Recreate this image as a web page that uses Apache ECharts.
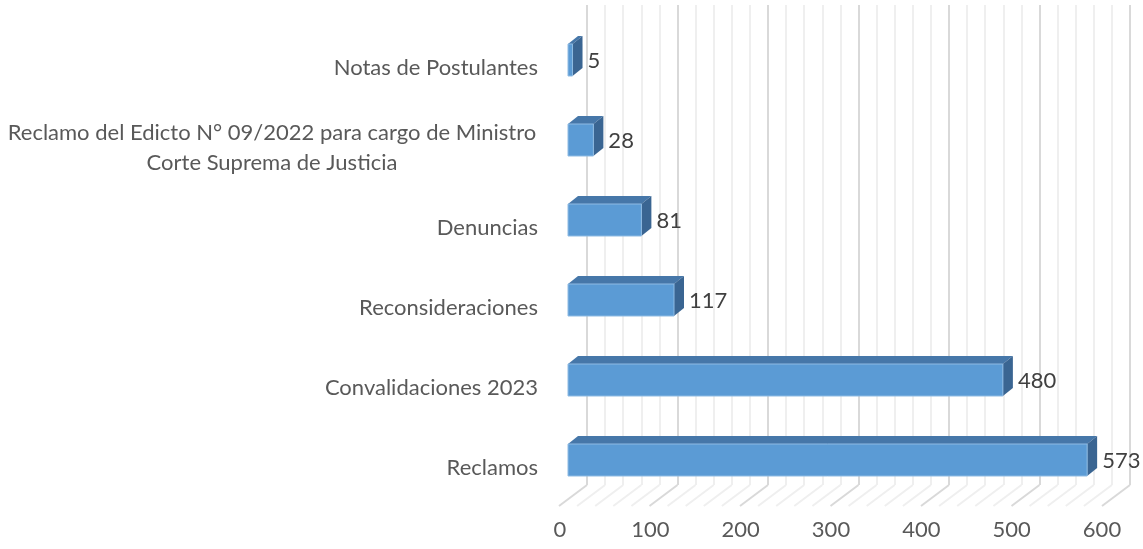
<!DOCTYPE html>
<html>
<head>
<meta charset="utf-8">
<script src="https://cdn.jsdelivr.net/npm/echarts@6/dist/echarts.min.js"></script>
<style>
  html, body { margin: 0; padding: 0; background: #fff; }
  #chart { width: 1143px; height: 549px; }
</style>
</head>
<body>
<div id="chart"></div>
<script>
// categories, top to bottom
var categories = [
    "Notas de Postulantes",
    "Reclamo del Edicto N° 09/2022 para cargo de Ministro\nCorte Suprema de Justicia",
    "Denuncias",
    "Reconsideraciones",
    "Convalidaciones 2023",
    "Reclamos"
];
var values = [5, 28, 81, 117, 480, 573];

// ticks of the back wall / floor (major every 100, minor every 20)
var wallTicks = [];
for (var t = 0; t <= 600; t += 20) wallTicks.push(t);

var DX = 10, DY = -8;          // bar depth
var FX = -28, FY = 21;         // floor depth

var chart = echarts.init(document.getElementById('chart'), null, { renderer: 'canvas' });

var font = "Lato, 'Open Sans', sans-serif";
var fsize = 22;

function barItem(params, api) {
    var v = api.value(0);
    var c = api.value(1);
    var p0 = api.coord([0, c]);
    var p1 = api.coord([v, c]);
    var h = api.size([0, 1])[1] * 0.4;
    var x0 = p0[0], x1 = p1[0];
    var yT = p1[1] - h / 2, yB = p1[1] + h / 2;
    return {
        type: 'group',
        children: [
            { type: 'polygon', shape: { points: [[x0, yT], [x1, yT], [x1 + DX, yT + DY], [x0 + DX, yT + DY]] },
              style: { fill: '#4677a9' } },
            { type: 'polygon', shape: { points: [[x1, yT], [x1 + DX, yT + DY], [x1 + DX, yB + DY], [x1, yB]] },
              style: { fill: '#3a6592' } },
            { type: 'rect', shape: { x: x0, y: yT, width: x1 - x0, height: h },
              style: { fill: '#5b9bd5', stroke: '#8fbbe3', lineWidth: 1 } },
            { type: 'text', x: x1 + DX + 5, y: p1[1] + 1,
              style: { text: String(v), fill: '#404040', font: fsize + 'px ' + font, verticalAlign: 'middle', align: 'left' } }
        ]
    };
}

function floorItem(params, api) {
    var v = api.value(0);
    var p = api.coord([v, 0]);
    var major = v % 100 === 0;
    return {
        type: 'line',
        shape: { x1: p[0], y1: p[1], x2: p[0] + FX, y2: p[1] + FY },
        style: { stroke: major ? '#d9d9d9' : '#efefef', lineWidth: 2 }
    };
}

var option = {
    animation: false,
    grid: [
        // back wall
        { left: 587, width: 543, top: 5, bottom: 64 },
        // front faces of bars
        { left: 568, width: 543.6, top: 20, bottom: 49 },
        // floor front edge, carries the value labels
        { left: 560, width: 542, top: 500, bottom: 43 }
    ],
    xAxis: [
        { gridIndex: 0, type: 'value', min: 0, max: 600, interval: 100,
          axisLine: { show: false }, axisTick: { show: false }, axisLabel: { show: false },
          splitLine: { show: true, lineStyle: { color: '#d9d9d9', width: 2 } },
          minorTick: { show: false, splitNumber: 5 },
          minorSplitLine: { show: true, lineStyle: { color: '#efefef', width: 2 } } },
        { gridIndex: 1, type: 'value', min: 0, max: 600, show: false },
        { gridIndex: 2, type: 'value', min: 0, max: 600, interval: 100,
          axisLine: { show: false }, axisTick: { show: false }, splitLine: { show: false },
          axisLabel: { margin: 13, color: '#595959', fontSize: fsize, fontFamily: font } }
    ],
    yAxis: [
        { gridIndex: 0, type: 'value', min: 0, max: 1, show: false },
        { gridIndex: 1, type: 'category', data: categories, inverse: true,
          axisLine: { show: false }, axisTick: { show: false }, splitLine: { show: false },
          axisLabel: {
              margin: 30, color: '#595959', fontSize: fsize, fontFamily: font,
              padding: [16, 0, 0, 0], lineHeight: 30,
              formatter: function (s) {
                  if (s.indexOf('\n') < 0) return s;
                  return s.split('\n').map(function (l) { return '{c|' + l + '}'; }).join('\n');
              },
              rich: { c: { width: 532, align: 'center', color: '#595959', fontSize: fsize, fontFamily: font, lineHeight: 30 } }
          } },
        { gridIndex: 2, type: 'value', show: false }
    ],
    series: [
        { type: 'custom', xAxisIndex: 0, yAxisIndex: 0, renderItem: floorItem,
          data: wallTicks.map(function (v) { return [v]; }), silent: true },
        { type: 'custom', xAxisIndex: 1, yAxisIndex: 1, renderItem: barItem,
          encode: { x: 0, y: 1 },
          data: values.map(function (v, i) { return [v, i]; }) }
    ]
};

chart.setOption(option);
</script>
</body>
</html>
